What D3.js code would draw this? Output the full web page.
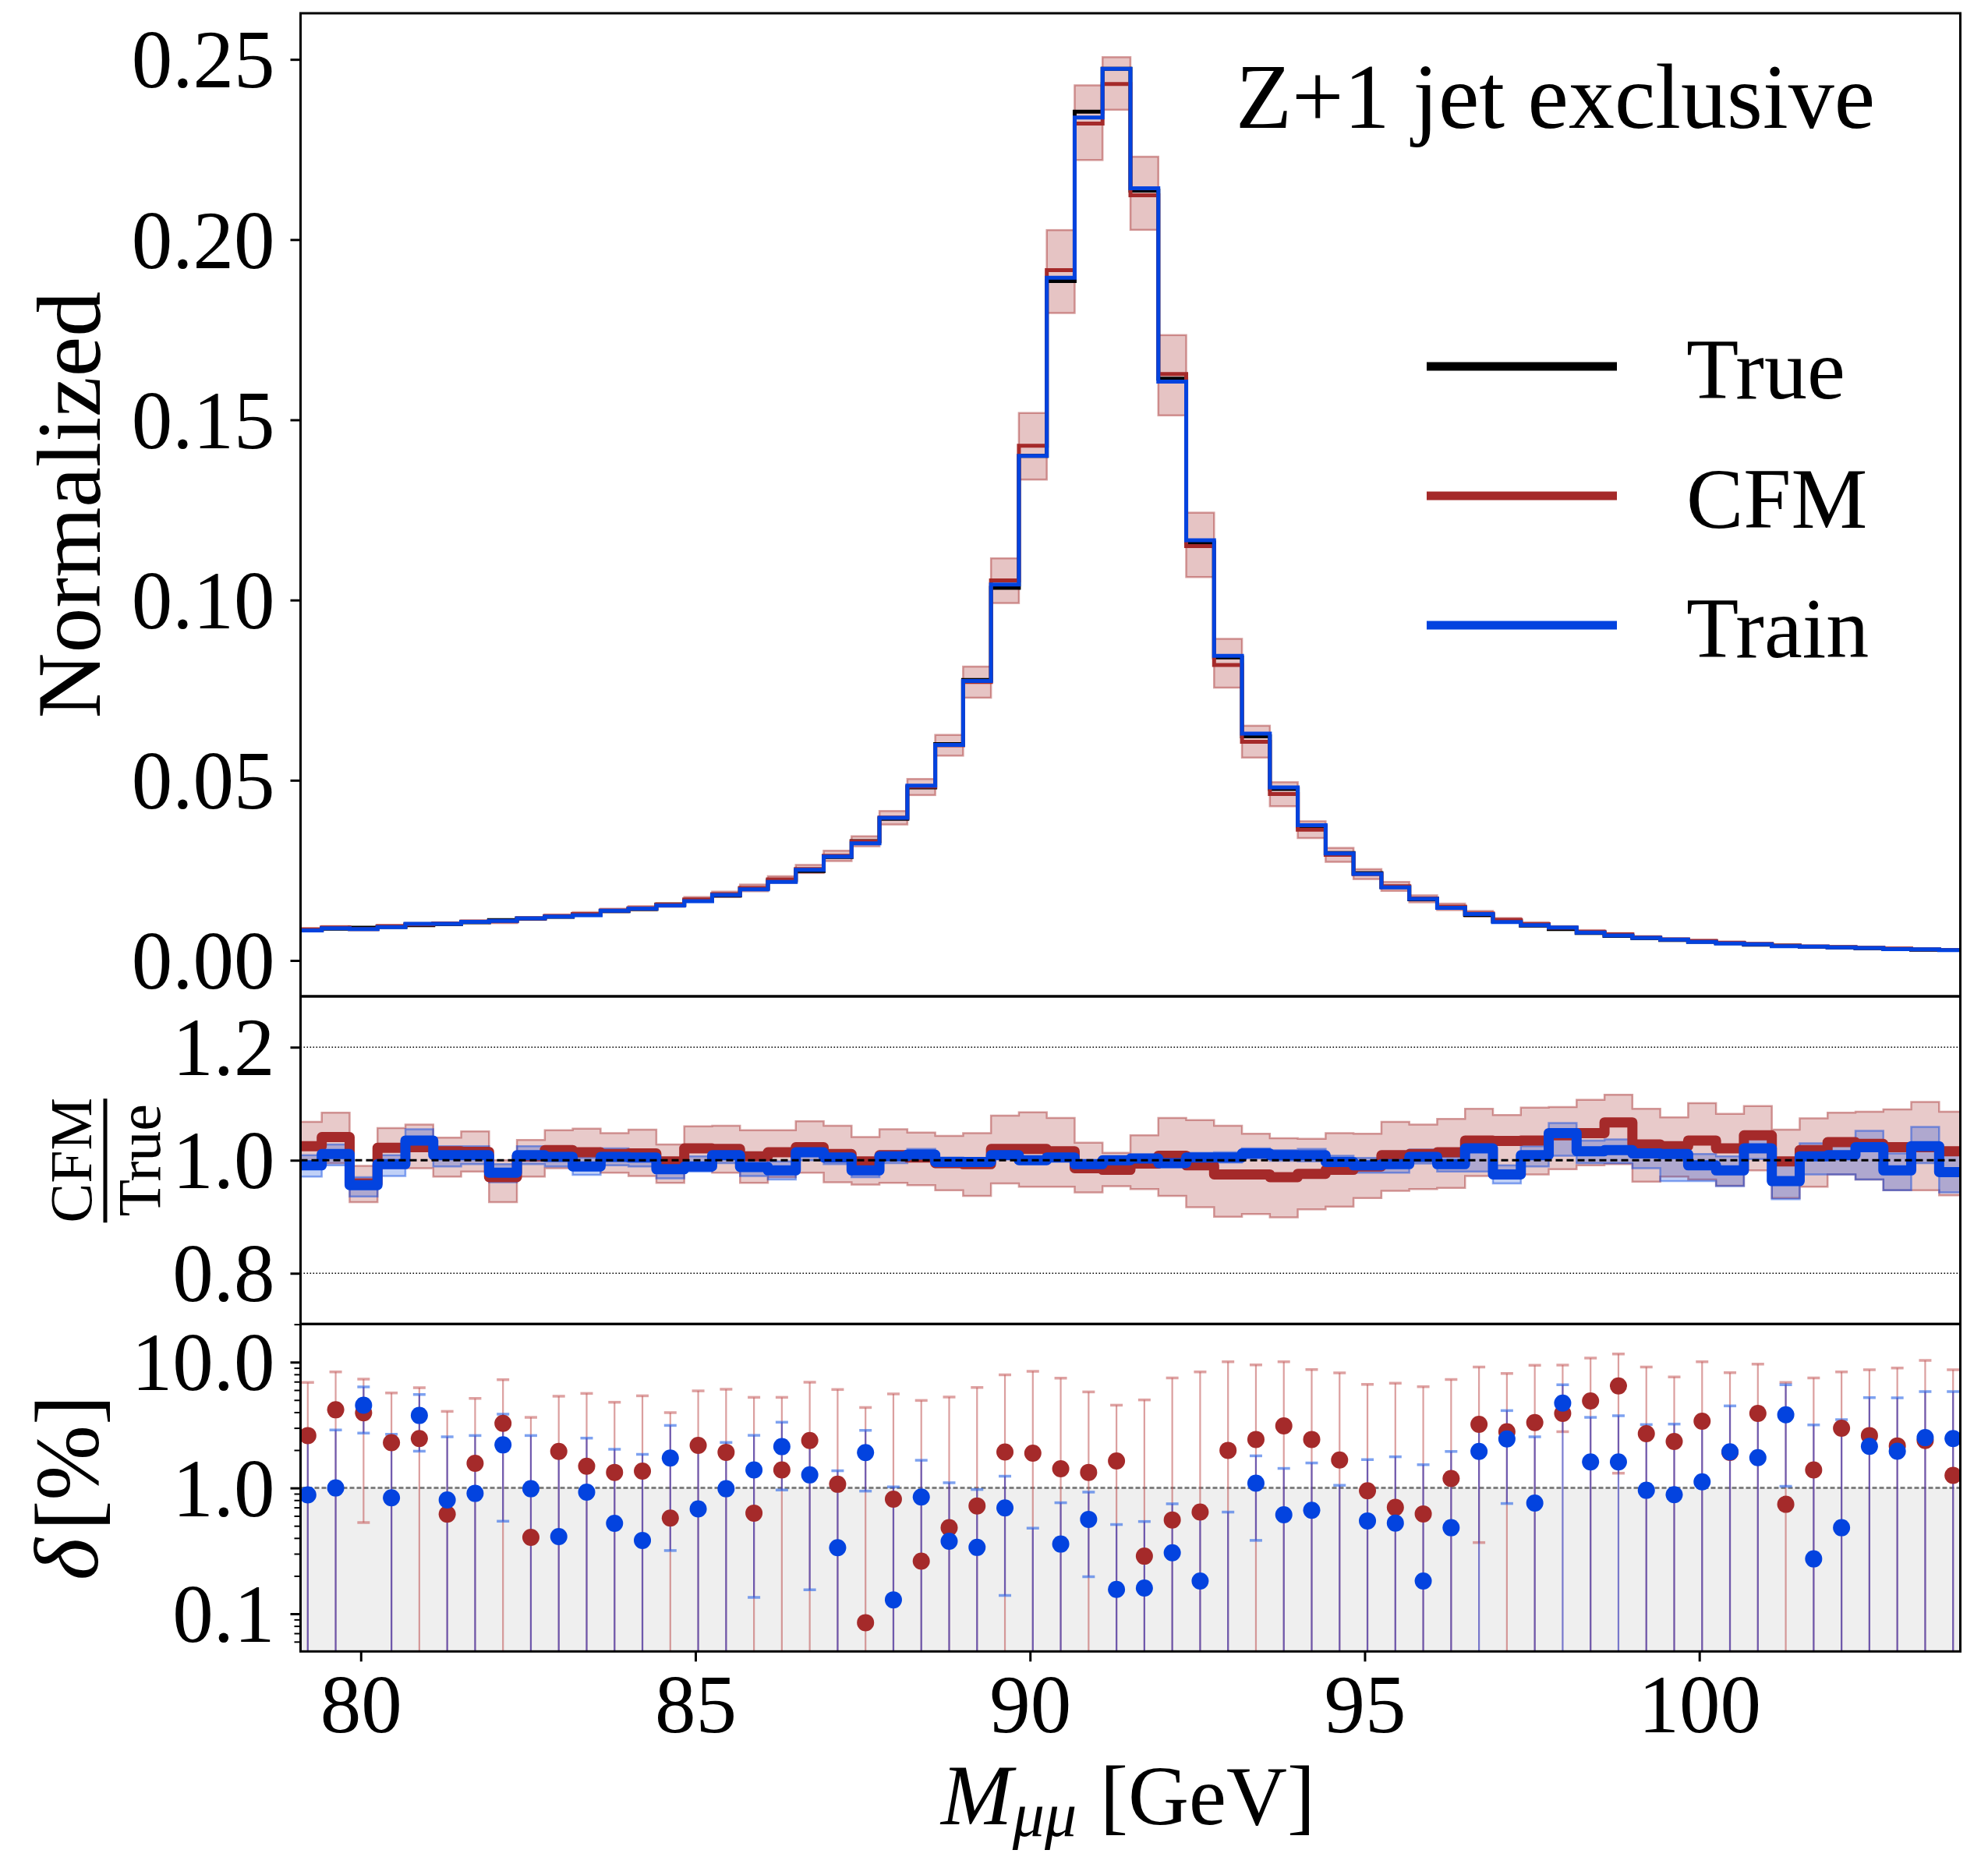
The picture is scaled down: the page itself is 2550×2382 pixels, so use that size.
<!DOCTYPE html>
<html>
<head>
<meta charset="utf-8">
<script src="https://cdn.jsdelivr.net/npm/d3@7"></script>
<style>
  body { margin: 0; background: #fff; }
  svg { display: block; }
</style>
</head>
<body>
<div id="chart"></div>
<script>
// 60 equal bins between 79 and 104 GeV
const binLow = 79, binHigh = 104, nBins = 60;

// normalized True histogram
const trueHist = [0.0084, 0.0088, 0.0091, 0.0093, 0.0098, 0.0101, 0.0106, 0.0112, 0.0116, 0.0121,
  0.0127, 0.0137, 0.0143, 0.0155, 0.0166, 0.0180, 0.0200, 0.0222, 0.0248, 0.0287,
  0.0331, 0.0393, 0.0480, 0.0600, 0.0778, 0.1034, 0.1400, 0.1885, 0.2355, 0.2474,
  0.2136, 0.1614, 0.1160, 0.0841, 0.0622, 0.0476, 0.0372, 0.0298, 0.0242, 0.0204,
  0.0170, 0.0147, 0.0126, 0.0109, 0.0097, 0.0087, 0.0076, 0.0068, 0.0062, 0.0057,
  0.0052, 0.0048, 0.0044, 0.0041, 0.0038, 0.0036, 0.0034, 0.0032, 0.0030, 0.0029];

// ratio to True
const cfmRatio = [1.025, 1.041, 0.959, 1.022, 1.023, 1.016, 1.015, 0.970, 1.007, 1.018,
  1.014, 1.011, 1.012, 0.998, 1.021, 1.020, 1.007, 1.014, 1.023, 1.011,
  0.998, 1.009, 1.005, 0.995, 0.993, 1.020, 1.020, 1.016, 0.986, 0.983,
  0.994, 1.008, 0.991, 0.975, 0.975, 0.970, 0.976, 0.983, 0.989, 1.009,
  1.011, 1.014, 1.035, 1.034, 1.035, 1.044, 1.048, 1.067, 1.028, 1.025,
  1.035, 1.021, 1.044, 0.998, 1.018, 1.032, 1.029, 1.023, 1.023, 1.016];
const trainRatio = [0.991, 1.011, 0.956, 0.993, 1.035, 1.009, 1.009, 0.978, 1.009, 1.006,
  0.989, 1.006, 1.005, 0.984, 0.989, 1.009, 0.988, 0.982, 1.014, 1.005,
  0.982, 1.007, 1.010, 0.997, 0.997, 1.009, 1.000, 1.005, 0.993, 1.000,
  1.003, 0.995, 1.005, 1.005, 1.012, 1.009, 1.009, 0.997, 0.991, 0.993,
  1.006, 0.993, 1.021, 0.975, 1.009, 1.048, 1.016, 1.018, 1.012, 1.011,
  0.991, 0.982, 1.021, 0.963, 1.007, 1.009, 1.023, 0.982, 1.025, 0.979];

// uncertainty bands (ratio units)
const cfmLo = [0.984, 0.995, 0.926, 0.986, 0.986, 0.971, 0.980, 0.926, 0.971, 0.986,
  0.986, 0.978, 0.972, 0.960, 0.984, 0.978, 0.960, 0.970, 0.978, 0.961,
  0.957, 0.960, 0.956, 0.947, 0.937, 0.959, 0.953, 0.953, 0.943, 0.954,
  0.949, 0.937, 0.917, 0.900, 0.905, 0.899, 0.913, 0.918, 0.933, 0.946,
  0.949, 0.951, 0.972, 0.972, 0.975, 0.984, 0.991, 0.993, 0.962, 0.971,
  0.966, 0.955, 0.982, 0.933, 0.953, 0.975, 0.966, 0.947, 0.947, 0.938];
const cfmHi = [1.068, 1.084, 0.990, 1.057, 1.063, 1.040, 1.051, 1.000, 1.036, 1.053,
  1.056, 1.048, 1.054, 1.028, 1.060, 1.061, 1.053, 1.053, 1.069, 1.061,
  1.041, 1.055, 1.049, 1.043, 1.048, 1.079, 1.085, 1.075, 1.031, 1.013,
  1.044, 1.075, 1.071, 1.061, 1.047, 1.039, 1.038, 1.048, 1.047, 1.068,
  1.063, 1.073, 1.091, 1.080, 1.093, 1.094, 1.107, 1.116, 1.091, 1.076,
  1.101, 1.082, 1.096, 1.054, 1.074, 1.084, 1.086, 1.090, 1.103, 1.086];
const trainLo = [0.971, 0.991, 0.936, 0.972, 1.018, 0.989, 0.993, 0.961, 0.993, 0.989,
  0.974, 0.991, 0.989, 0.968, 0.980, 0.995, 0.972, 0.966, 1.000, 0.993,
  0.970, 0.995, 0.998, 0.988, 0.990, 1.002, 0.994, 0.999, 0.987, 0.995,
  0.996, 0.988, 0.997, 0.996, 1.003, 0.999, 0.998, 0.985, 0.978, 0.978,
  0.994, 0.980, 0.980, 0.959, 0.989, 1.008, 0.995, 0.995, 0.986, 0.963,
  0.963, 0.954, 1.002, 0.931, 0.975, 0.975, 0.966, 0.947, 0.995, 0.943];
const trainHi = [1.009, 1.028, 0.970, 1.009, 1.055, 1.025, 1.025, 0.993, 1.025, 1.020,
  1.005, 1.021, 1.018, 1.000, 1.007, 1.023, 1.002, 0.998, 1.025, 1.014,
  0.993, 1.016, 1.020, 1.005, 1.004, 1.016, 1.006, 1.011, 0.999, 1.005,
  1.010, 1.003, 1.013, 1.014, 1.021, 1.018, 1.020, 1.008, 1.004, 1.007,
  1.019, 1.006, 1.035, 0.991, 1.025, 1.066, 1.035, 1.037, 1.032, 1.014,
  1.011, 1.007, 1.044, 0.993, 1.030, 1.034, 1.052, 1.012, 1.059, 1.009];

// delta [%] per bin; 0.03 = below the visible range
const cfmDelta = [2.61, 4.18, 3.95, 2.29, 2.47, 0.619, 1.57, 3.26, 0.405, 1.95,
  1.49, 1.33, 1.36, 0.576, 2.18, 1.92, 0.631, 1.39, 2.38, 1.07,
  0.085, 0.815, 0.262, 0.483, 0.720, 1.93, 1.89, 1.42, 1.33, 1.64,
  0.287, 0.557, 0.643, 1.99, 2.43, 3.11, 2.43, 1.67, 0.949, 0.700,
  0.622, 1.19, 3.20, 2.80, 3.31, 3.91, 4.91, 6.47, 2.70, 2.34,
  3.39, 1.92, 3.91, 0.741, 1.39, 2.98, 2.61, 2.16, 2.38, 1.26];
const trainDelta = [0.88, 1.00, 4.55, 0.835, 3.77, 0.804, 0.905, 2.20, 0.986, 0.411,
  0.927, 0.524, 0.383, 1.73, 0.681, 0.986, 1.39, 2.13, 1.27, 0.335,
  1.91, 0.129, 0.847, 0.377, 0.337, 0.694, 0.03, 0.358, 0.563, 0.156,
  0.160, 0.305, 0.182, 0.03, 1.09, 0.613, 0.665, 0.03, 0.547, 0.526,
  0.182, 0.483, 1.95, 2.45, 0.759, 4.73, 1.61, 1.61, 0.958, 0.884,
  1.12, 1.94, 1.74, 3.82, 0.273, 0.483, 2.14, 1.96, 2.51, 2.47];

// error bar ends; null = bar runs off the bottom
const cfmErrHi = [6.89, 8.37, 7.32, 5.69, 6.26, 4.06, 5.15, 7.26, 3.64, 5.36,
  5.64, 4.80, 5.40, 3.97, 5.91, 6.09, 5.25, 5.25, 6.92, 6.06,
  4.36, 5.59, 4.96, 5.28, 6.29, 7.94, 8.45, 7.47, 5.80, 4.55,
  5.01, 7.50, 8.37, 10.07, 9.51, 10.07, 8.73, 8.21, 6.66, 6.79,
  6.38, 7.29, 9.16, 8.13, 9.43, 9.47, 10.77, 11.61, 9.16, 7.61,
  10.07, 8.25, 9.65, 6.89, 7.50, 8.37, 8.69, 8.99, 10.31, 8.69];
const cfmErrLo = [null, null, 0.531, null, null, null, null, null, null, null,
  null, null, null, null, null, null, null, null, null, null,
  null, null, null, null, null, null, null, null, null, null,
  null, null, null, null, null, null, null, null, null, null,
  null, null, 0.368, null, null, 2.80, null, 1.31, null, null,
  null, null, null, null, null, null, null, null, null, null];
const trainErrHi = [2.55, 2.89, 6.35, 2.67, 5.53, 2.55, 2.61, 3.86, 2.61, 1.92,
  2.49, 2.03, 1.85, 3.14, 2.11, 2.30, 2.62, 3.33, 2.38, 1.37,
  2.87, 1.02, 1.66, 1.10, 0.972, 1.24, 0.479, 0.763, 0.927, 0.512,
  0.541, 0.748, 0.66, 0.643, 1.80, 1.43, 1.58, 1.05, 1.68, 1.77,
  1.53, 1.95, 3.20, 4.12, 2.55, 6.60, 3.64, 3.75, 3.19, 3.22,
  3.23, 4.49, 4.30, 6.60, 3.17, 3.49, 5.23, 5.20, 5.83, 5.83];
const trainErrLo = [null, null, 2.73, null, 1.96, null, null, 0.544, null, null,
  null, null, null, 0.318, null, null, 0.135, 0.963, 0.155, null,
  0.944, null, null, null, null, 0.140, null, null, 0.197, null,
  null, null, null, null, 0.383, null, null, null, null, null,
  null, null, null, 0.752, null, null, null, null, null, null,
  null, null, null, 1.03, null, null, null, null, null, null];

const xTicks = [80, 85, 90, 95, 100];
const mainTicks = [0, 0.05, 0.10, 0.15, 0.20, 0.25];
const ratioTicks = [0.8, 1.0, 1.2];
const deltaTicks = [0.1, 1, 10];
const legendNames = ["True", "CFM", "Train"];

//colours
const cBlack = "#000000", cCfm = "#a52a2a", cTrain = "#0343df";
const serif = "'Liberation Serif', 'Times New Roman', serif";

const W = 2550, H = 2382;
const left = 385.5, right = 2514.5;
const mainY = [17, 1278], ratioY = [1278, 1698.3], deltaY = [1698.3, 2118.3];

const svg = d3.select("#chart").append("svg")
  .attr("width", W).attr("height", H)
  .attr("viewBox", `0 0 ${W} ${H}`);
svg.append("rect").attr("width", W).attr("height", H).attr("fill", "#fff");

const x = d3.scaleLinear().domain([79.1, 103.9]).range([left, right]);
const edges = d3.range(nBins + 1).map(i => binLow + i * (binHigh - binLow) / nBins);
const centers = d3.range(nBins).map(i => (edges[i] + edges[i + 1]) / 2);

const yMain = d3.scaleLinear().domain([-0.00995, 0.2628]).range([mainY[1], mainY[0]]);
const yRatio = d3.scaleLinear().domain([0.7103, 1.290]).range([ratioY[1], ratioY[0]]);
const yDelta = d3.scaleLog().domain([0.0502, 20.1]).range([deltaY[1], deltaY[0]]);

const defs = svg.append("defs");
function addClip(id, yr) {
  defs.append("clipPath").attr("id", id).append("rect")
    .attr("x", left).attr("y", yr[0]).attr("width", right - left).attr("height", yr[1] - yr[0]);
}
addClip("clip-main", mainY);
addClip("clip-ratio", ratioY);
addClip("clip-delta", deltaY);

function stepPath(vals, y) {
  const pts = vals.map((v, i) => [x(edges[i]), y(v)]);
  pts.push([x(edges[nBins]), y(vals[nBins - 1])]);
  return d3.line().curve(d3.curveStepAfter)(pts);
}
function stepArea(lo, hi, y) {
  const idx = d3.range(nBins + 1);
  return d3.area().curve(d3.curveStepAfter)
    .x(i => x(edges[i]))
    .y0(i => y(lo[Math.min(i, nBins - 1)]))
    .y1(i => y(hi[Math.min(i, nBins - 1)]))(idx);
}

// ---------- main panel ----------
const gMain = svg.append("g").attr("clip-path", "url(#clip-main)");

gMain.selectAll("rect.band").data(trueHist).join("rect")
  .attr("class", "band")
  .attr("x", (d, i) => x(edges[i]))
  .attr("width", (d, i) => x(edges[i + 1]) - x(edges[i]))
  .attr("y", (d, i) => yMain(d * cfmHi[i]))
  .attr("height", (d, i) => yMain(d * cfmLo[i]) - yMain(d * cfmHi[i]))
  .attr("fill", "rgba(165,42,42,0.28)")
  .attr("stroke", "rgba(165,42,42,0.45)")
  .attr("stroke-width", 2.5);

const cfmHist = trueHist.map((d, i) => d * cfmRatio[i]);
const trainHist = trueHist.map((d, i) => d * trainRatio[i]);

[[trueHist, cBlack], [cfmHist, cCfm], [trainHist, cTrain]].forEach(([vals, col]) => {
  gMain.append("path")
    .attr("d", stepPath(vals, yMain))
    .attr("fill", "none")
    .attr("stroke", col)
    .attr("stroke-width", 5);
});

// ---------- ratio panel ----------
const gRatio = svg.append("g").attr("clip-path", "url(#clip-ratio)");

gRatio.append("path").attr("d", stepArea(cfmLo, cfmHi, yRatio))
  .attr("fill", "rgba(165,42,42,0.25)")
  .attr("stroke", "rgba(165,42,42,0.45)").attr("stroke-width", 2.5);
gRatio.append("path").attr("d", stepArea(trainLo, trainHi, yRatio))
  .attr("fill", "rgba(3,67,223,0.25)")
  .attr("stroke", "rgba(3,67,223,0.45)").attr("stroke-width", 2.5);

[0.8, 1.2].forEach(v => {
  gRatio.append("line")
    .attr("x1", left).attr("x2", right)
    .attr("y1", yRatio(v)).attr("y2", yRatio(v))
    .attr("stroke", "#000").attr("stroke-width", 1.6)
    .attr("stroke-dasharray", "1.6,2.4");
});

gRatio.append("path").attr("d", stepPath(cfmRatio, yRatio))
  .attr("fill", "none").attr("stroke", cCfm).attr("stroke-width", 13)
  .attr("stroke-linejoin", "round");
gRatio.append("path").attr("d", stepPath(trainRatio, yRatio))
  .attr("fill", "none").attr("stroke", cTrain).attr("stroke-width", 13)
  .attr("stroke-linejoin", "round");

gRatio.append("line")
  .attr("x1", left).attr("x2", right)
  .attr("y1", yRatio(1)).attr("y2", yRatio(1))
  .attr("stroke", "#000").attr("stroke-width", 3)
  .attr("stroke-dasharray", "9,5");

// ---------- delta panel ----------
const gDelta = svg.append("g").attr("clip-path", "url(#clip-delta)");

gDelta.append("rect")
  .attr("x", left).attr("width", right - left)
  .attr("y", yDelta(1)).attr("height", deltaY[1] - yDelta(1))
  .attr("fill", "#efefef");
gDelta.append("line")
  .attr("x1", left).attr("x2", right)
  .attr("y1", yDelta(1)).attr("y2", yDelta(1))
  .attr("stroke", "#808080").attr("stroke-width", 3)
  .attr("stroke-dasharray", "6,3");

function errorBars(hi, lo, barCol, capCol) {
  const g = gDelta.append("g");
  g.selectAll("line.bar").data(hi).join("line")
    .attr("class", "bar")
    .attr("x1", (d, i) => x(centers[i])).attr("x2", (d, i) => x(centers[i]))
    .attr("y1", d => yDelta(d))
    .attr("y2", (d, i) => lo[i] === null ? deltaY[1] + 5 : yDelta(lo[i]))
    .attr("stroke", barCol).attr("stroke-width", 2.2);
  g.selectAll("line.capHi").data(hi).join("line")
    .attr("class", "capHi")
    .attr("x1", (d, i) => x(centers[i]) - 8).attr("x2", (d, i) => x(centers[i]) + 8)
    .attr("y1", d => yDelta(d)).attr("y2", d => yDelta(d))
    .attr("stroke", capCol).attr("stroke-width", 3.5);
  g.selectAll("line.capLo").data(lo.map((d, i) => [d, i]).filter(p => p[0] !== null)).join("line")
    .attr("class", "capLo")
    .attr("x1", p => x(centers[p[1]]) - 8).attr("x2", p => x(centers[p[1]]) + 8)
    .attr("y1", p => yDelta(p[0])).attr("y2", p => yDelta(p[0]))
    .attr("stroke", capCol).attr("stroke-width", 3.5);
}
errorBars(cfmErrHi, cfmErrLo, "rgba(190,80,80,0.55)", "rgba(200,100,100,0.6)");
errorBars(trainErrHi, trainErrLo, "rgba(55,55,185,0.65)", "rgba(40,100,230,0.6)");

gDelta.selectAll("circle.cfm").data(cfmDelta).join("circle")
  .attr("class", "cfm")
  .attr("cx", (d, i) => x(centers[i])).attr("cy", d => yDelta(d))
  .attr("r", 11).attr("fill", cCfm);
gDelta.selectAll("circle.train").data(trainDelta).join("circle")
  .attr("class", "train")
  .attr("cx", (d, i) => x(centers[i])).attr("cy", d => yDelta(d))
  .attr("r", 11).attr("fill", cTrain);

// ---------- axes ----------
function styleAxis(g, fontSize) {
  g.select(".domain").remove();
  g.selectAll(".tick line").attr("stroke", "#000").attr("stroke-width", 3);
  g.selectAll(".tick text")
    .attr("font-family", serif)
    .attr("font-size", fontSize)
    .attr("fill", "#000");
}

svg.append("g").attr("transform", `translate(${left},0)`)
  .call(d3.axisLeft(yMain).tickValues(mainTicks).tickFormat(d3.format(".2f")).tickSize(13).tickPadding(20))
  .call(g => styleAxis(g, 105))
  .selectAll(".tick text").attr("dy", "0.34em");

svg.append("g").attr("transform", `translate(${left},0)`)
  .call(d3.axisLeft(yRatio).tickValues(ratioTicks).tickFormat(d3.format(".1f")).tickSize(13).tickPadding(20))
  .call(g => styleAxis(g, 105))
  .selectAll(".tick text").attr("dy", "0.34em");

const minorVals = [];
[0.01, 0.1, 1, 10].forEach(dec => {
  for (let m = 2; m <= 9; m++) {
    const v = dec * m;
    if (v > 0.0502 && v < 20.2) minorVals.push(v);
  }
});
svg.append("g").attr("transform", `translate(${left},0)`)
  .call(d3.axisLeft(yDelta).tickValues(minorVals).tickFormat("").tickSize(8))
  .call(g => { g.select(".domain").remove(); g.selectAll(".tick line").attr("stroke", "#000").attr("stroke-width", 2); });

svg.append("g").attr("transform", `translate(${left},0)`)
  .call(d3.axisLeft(yDelta).tickValues(deltaTicks).tickFormat(d3.format(".1f")).tickSize(13).tickPadding(20))
  .call(g => styleAxis(g, 105))
  .selectAll(".tick text").attr("dy", "0.34em");

svg.append("g").attr("transform", `translate(0,${deltaY[1]})`)
  .call(d3.axisBottom(x).tickValues(xTicks).tickFormat(d3.format("d")).tickSize(13).tickPadding(16))
  .call(g => styleAxis(g, 105));

// frames
[mainY, ratioY, deltaY].forEach(yr => {
  svg.append("rect")
    .attr("x", left).attr("y", yr[0])
    .attr("width", right - left).attr("height", yr[1] - yr[0])
    .attr("fill", "none").attr("stroke", "#000").attr("stroke-width", 3);
});

// ---------- text ----------
svg.append("text")
  .attr("x", 1585).attr("y", 164)
  .attr("font-family", serif).attr("font-size", 118)
  .text("Z+1 jet exclusive");

// legend
const legendCols = [cBlack, cCfm, cTrain];
const legendY = [470, 636, 802];
legendNames.forEach((name, i) => {
  svg.append("line")
    .attr("x1", 1830).attr("x2", 2074)
    .attr("y1", legendY[i]).attr("y2", legendY[i])
    .attr("stroke", legendCols[i]).attr("stroke-width", 11);
  svg.append("text")
    .attr("x", 2163).attr("y", legendY[i] + 41)
    .attr("font-family", serif).attr("font-size", 110)
    .text(name);
});

// y labels
svg.append("text")
  .attr("transform", `translate(128,${(mainY[0] + mainY[1]) / 2}) rotate(-90)`)
  .attr("text-anchor", "middle")
  .attr("font-family", serif).attr("font-size", 116)
  .text("Normalized");

const rc = yRatio(1);
svg.append("text")
  .attr("transform", `translate(117,${rc}) rotate(-90)`)
  .attr("text-anchor", "middle")
  .attr("font-family", serif).attr("font-size", 76)
  .text("CFM");
svg.append("line")
  .attr("x1", 135).attr("x2", 135)
  .attr("y1", rc - 79).attr("y2", rc + 80)
  .attr("stroke", "#000").attr("stroke-width", 5);
svg.append("text")
  .attr("transform", `translate(205,${rc}) rotate(-90)`)
  .attr("text-anchor", "middle")
  .attr("font-family", serif).attr("font-size", 78)
  .text("True");

const dLab = svg.append("text")
  .attr("transform", `translate(125,${(deltaY[0] + deltaY[1]) / 2}) rotate(-90)`)
  .attr("text-anchor", "middle")
  .attr("font-family", serif).attr("font-size", 116);
dLab.append("tspan").attr("font-style", "italic").text("δ");
dLab.append("tspan").attr("dx", 10).text("[%]");

// x label
const xLab = svg.append("text")
  .attr("x", (left + right) / 2 - 3).attr("y", 2340)
  .attr("text-anchor", "middle")
  .attr("font-family", serif).attr("font-size", 110);
xLab.append("tspan").attr("font-style", "italic").text("M");
xLab.append("tspan").attr("font-style", "italic").attr("font-size", 82).attr("dy", 15).text("μμ");
xLab.append("tspan").attr("dy", -15).attr("dx", 30).attr("font-size", 108).text("[GeV]");
</script>
</body>
</html>
